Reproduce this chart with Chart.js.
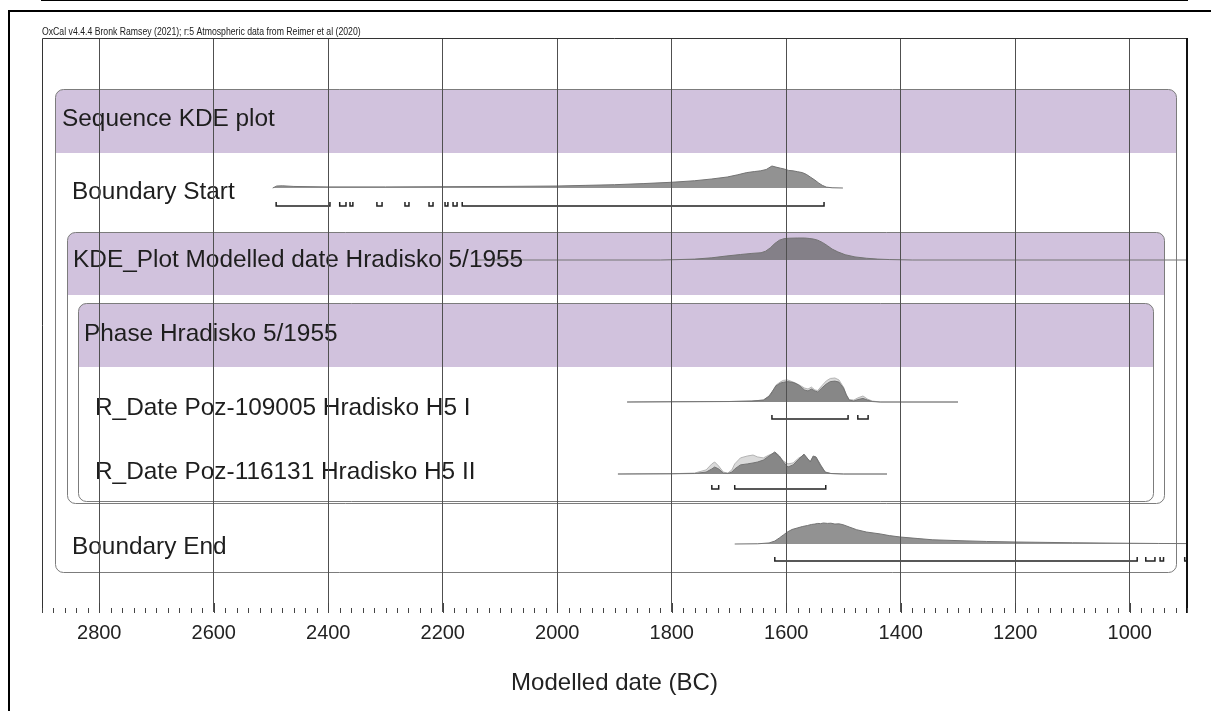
<!DOCTYPE html>
<html>
<head>
<meta charset="utf-8">
<script src="https://cdn.jsdelivr.net/npm/chart.js@4.4.0/dist/chart.umd.min.js"></script>
<style>
  html, body { margin: 0; padding: 0; background: #fff; }
  #wrap { width: 1211px; height: 711px; }
</style>
</head>
<body>
<div id="wrap"><canvas id="oxcal" width="1211" height="711"></canvas></div>
<script>
// axis
const tickYears = [2800, 2600, 2400, 2200, 2000, 1800, 1600, 1400, 1200, 1000];
const xMin = 900, xMax = 2900;
const axisTitle = 'Modelled date (BC)';
const headerText = 'OxCal v4.4.4 Bronk Ramsey (2021); r:5 Atmospheric data from Reimer et al (2020)';

// Boundary Start (posterior)
const startYears = [2497,2490,2480,2460,2400,2300,2200,2100,2000,1950,1900,1850,1800,1760,1730,1703,1685,1669,1655,1645,1635,1625,1618,1610,1603,1596,1588,1580,1572,1565,1558,1550,1543,1537,1530,1520,1501];
const startProb  = [0,0.09,0.1,0.07,0.05,0.05,0.06,0.07,0.09,0.12,0.15,0.2,0.26,0.33,0.41,0.5,0.6,0.7,0.75,0.78,0.84,1.0,0.95,0.9,0.86,0.8,0.78,0.74,0.7,0.62,0.5,0.36,0.22,0.12,0.04,0.01,0];
const startRanges = [[2491,2397],[2380,2369],[2362,2357],[2315,2306],[2266,2259],[2224,2217],[2196,2191],[2182,2175],[2166,1534]];

// KDE_Plot Modelled date
const kdeYears = [2140,1820,1800,1760,1730,1705,1680,1660,1644,1636,1628,1620,1612,1604,1595,1580,1568,1560,1552,1545,1537,1528,1520,1510,1497,1480,1460,1440,1420,1400,1380,900];
const kdeProb  = [0,0,0.01,0.04,0.1,0.18,0.25,0.3,0.33,0.4,0.55,0.75,0.9,0.97,0.99,1.0,1.0,0.98,0.95,0.9,0.8,0.65,0.5,0.37,0.24,0.14,0.08,0.04,0.02,0.01,0,0];

// R_Date Poz-109005
const r1Years = [1878,1800,1700,1660,1640,1630,1625,1618,1610,1605,1598,1590,1585,1578,1568,1562,1556,1550,1545,1538,1530,1523,1515,1508,1500,1495,1490,1482,1475,1466,1458,1450,1436,1300];
const r1Post  = [0,0.01,0.02,0.04,0.08,0.25,0.42,0.67,0.79,0.82,0.85,0.82,0.79,0.7,0.5,0.46,0.54,0.46,0.42,0.58,0.75,0.85,0.87,0.83,0.58,0.29,0.08,0.04,0.1,0.15,0.08,0.02,0,0];
const r1Like  = [0,0.01,0.02,0.04,0.08,0.22,0.38,0.7,0.84,0.9,0.92,0.85,0.8,0.72,0.58,0.54,0.62,0.5,0.48,0.67,0.88,0.98,1.0,0.92,0.62,0.3,0.1,0.08,0.17,0.25,0.12,0.04,0,0];
const r1Ranges = [[1625,1492],[1475,1457]];

// R_Date Poz-116131
const r2Years = [1894,1800,1760,1740,1730,1725,1718,1710,1702,1695,1690,1680,1668,1658,1650,1640,1630,1620,1612,1605,1597,1588,1578,1569,1562,1558,1553,1548,1540,1532,1522,1500,1424];
const r2Post  = [0,0.01,0.02,0.08,0.21,0.29,0.21,0.04,0.02,0.08,0.21,0.38,0.42,0.46,0.5,0.58,0.75,0.92,0.75,0.5,0.29,0.38,0.62,0.83,0.62,0.5,0.75,0.71,0.38,0.08,0.02,0,0];
const r2Like  = [0,0.01,0.04,0.17,0.42,0.5,0.33,0.08,0.04,0.17,0.42,0.67,0.75,0.79,0.71,0.67,0.79,0.88,0.71,0.54,0.42,0.46,0.67,0.79,0.62,0.54,0.71,0.67,0.33,0.08,0.02,0,0];
const r2Ranges = [[1730,1718],[1690,1531]];

// Boundary End (posterior)
const endYears = [1690,1650,1630,1620,1612,1605,1598,1590,1581,1572,1563,1556,1550,1545,1540,1535,1528,1522,1515,1508,1501,1490,1477,1460,1436,1420,1400,1370,1344,1300,1250,1199,1100,1000,950,900,860];
const endProb  = [0,0.01,0.05,0.14,0.29,0.43,0.57,0.69,0.76,0.83,0.88,0.93,0.95,0.98,0.97,1.0,0.98,0.99,0.95,0.96,0.92,0.81,0.68,0.57,0.48,0.4,0.33,0.26,0.2,0.16,0.12,0.095,0.06,0.035,0.025,0.02,0.015];
const endRanges = [[1620,987],[972,956],[947,941],[904,880]];

const rowLabels = ['Sequence KDE plot', 'Boundary Start', 'KDE_Plot Modelled date Hradisko 5/1955',
  'Phase Hradisko 5/1955', 'R_Date Poz-109005 Hradisko H5 I', 'R_Date Poz-116131 Hradisko H5 II', 'Boundary End'];

// layout (y units = px below top of plot area)
const rows = {
  start: { base: 150, bracket: 168, peak: 22 },
  kde:   { base: 222, peak: 22 },
  r1:    { base: 364, bracket: 381, peak: 24 },
  r2:    { base: 436, bracket: 451, peak: 24 },
  end:   { base: 506, bracket: 523, peak: 21 }
};
const labelPos = [[20,81],[30,154],[31,222],[42,296],[53,370],[53,434],[30,509]];
const boxes = [
  { inL: 13, inR: 11, top: 51,  head: 115, bottom: 534 },
  { inL: 25, inR: 23, top: 194, head: 257, bottom: 465 },
  { inL: 36, inR: 34, top: 265, head: 329, bottom: 463 }
];
const FONT = "'Liberation Sans', Arial, sans-serif";
const PURPLE = '#d1c2dd';

function curve(years, prob, row) {
  return years.map((yr, i) => ({ x: yr, y: row.base - prob[i] * row.peak }));
}
function brackets(ranges, row) {
  const pts = [];
  ranges.forEach(([a, b]) => {
    pts.push({x: a, y: row.bracket - 4}, {x: a, y: row.bracket}, {x: b, y: row.bracket}, {x: b, y: row.bracket - 4}, {x: b, y: null});
  });
  return pts;
}
function post(data, base) {
  return { data, order: 2, borderColor: '#747474', borderWidth: 1, backgroundColor: 'rgba(100,100,100,0.7)', fill: { value: base }, pointRadius: 0 };
}
function like(data, base) {
  return { data, order: 3, borderColor: '#b4b4b4', borderWidth: 1, backgroundColor: '#dadada', fill: { value: base }, pointRadius: 0 };
}
function bracketSet(data) {
  return { data, order: 1, borderColor: '#222', borderWidth: 1.5, fill: false, pointRadius: 0, spanGaps: false };
}

const oxcalDecor = {
  id: 'oxcalDecor',
  beforeDraw(chart) {
    const ctx = chart.ctx;
    ctx.save();
    ctx.fillStyle = '#fff';
    ctx.fillRect(0, 0, chart.width, chart.height);
    ctx.strokeStyle = '#000';
    ctx.lineWidth = 2;
    ctx.beginPath();
    ctx.moveTo(9, chart.height); ctx.lineTo(9, 11); ctx.lineTo(chart.width, 11);
    ctx.stroke();
    ctx.restore();
  },
  beforeDatasetsDraw(chart) {
    const {ctx, chartArea: a, scales: {y}} = chart;
    ctx.save();
    boxes.forEach(b => {
      const x0 = a.left + b.inL + 0.5, x1 = a.right - b.inR + 0.5;
      const t = Math.round(y.getPixelForValue(b.top)) + 0.5;
      const h = y.getPixelForValue(b.head), bt = Math.round(y.getPixelForValue(b.bottom)) + 0.5;
      ctx.fillStyle = PURPLE;
      ctx.beginPath(); ctx.roundRect(x0, t, x1 - x0, h - t, [8, 8, 0, 0]); ctx.fill();
      ctx.strokeStyle = '#7c7c7c'; ctx.lineWidth = 1;
      ctx.beginPath(); ctx.roundRect(x0, t, x1 - x0, bt - t, 8); ctx.stroke();
    });
    ctx.restore();
  },
  afterDatasetsDraw(chart) {
    const {ctx, chartArea: a, scales: {y}} = chart;
    ctx.save();
    ctx.fillStyle = '#1e1e1e';
    ctx.font = '24.4px ' + FONT;
    ctx.textBaseline = 'middle';
    rowLabels.forEach((t, i) => ctx.fillText(t, a.left + labelPos[i][0], y.getPixelForValue(labelPos[i][1])));
    ctx.restore();
  },
  afterDraw(chart) {
    const {ctx, chartArea: a, scales: {x}} = chart;
    ctx.save();
    ctx.strokeStyle = '#333';
    ctx.lineWidth = 1;
    ctx.beginPath();
    ctx.moveTo(a.left + 0.5, a.bottom); ctx.lineTo(a.left + 0.5, a.top + 0.5); ctx.lineTo(a.right, a.top + 0.5);
    ctx.stroke();
    ctx.strokeStyle = '#111'; ctx.lineWidth = 2;
    ctx.beginPath(); ctx.moveTo(a.right, a.top); ctx.lineTo(a.right, a.bottom); ctx.stroke();
    // minor ticks every 20 years
    ctx.strokeStyle = '#444'; ctx.lineWidth = 1;
    ctx.beginPath();
    for (let v = xMin; v <= xMax; v += 20) {
      const px = Math.round(x.getPixelForValue(v)) + 0.5;
      const len = v % 200 === 0 ? 10 : 5;
      ctx.moveTo(px, a.bottom); ctx.lineTo(px, a.bottom - len);
    }
    ctx.stroke();
    // header line, condensed
    ctx.fillStyle = '#222';
    ctx.font = '10.6px ' + FONT;
    ctx.textBaseline = 'alphabetic';
    ctx.translate(a.left, a.top - 3);
    ctx.scale(0.82, 1);
    ctx.fillText(headerText, 0, 0);
    ctx.restore();
  }
};

new Chart(document.getElementById('oxcal'), {
  type: 'line',
  data: {
    datasets: [
      post(curve(startYears, startProb, rows.start), rows.start.base),
      bracketSet(brackets(startRanges, rows.start)),
      post(curve(kdeYears, kdeProb, rows.kde), rows.kde.base),
      like(curve(r1Years, r1Like, rows.r1), rows.r1.base),
      post(curve(r1Years, r1Post, rows.r1), rows.r1.base),
      bracketSet(brackets(r1Ranges, rows.r1)),
      like(curve(r2Years, r2Like, rows.r2), rows.r2.base),
      post(curve(r2Years, r2Post, rows.r2), rows.r2.base),
      bracketSet(brackets(r2Ranges, rows.r2)),
      post(curve(endYears, endProb, rows.end), rows.end.base),
      bracketSet(brackets(endRanges, rows.end))
    ]
  },
  options: {
    responsive: false,
    animation: false,
    events: [],
    layout: { padding: { left: 42, top: 38, right: 24, bottom: 0 } },
    elements: { line: { tension: 0 } },
    plugins: { legend: { display: false }, tooltip: { enabled: false } },
    scales: {
      x: {
        type: 'linear', reverse: true, min: xMin, max: xMax,
        afterBuildTicks: s => { s.ticks = tickYears.map(v => ({ value: v })); },
        afterFit: s => { s.height = 98; },
        grid: { color: '#505050', lineWidth: 1, drawTicks: false, z: 1 },
        border: { color: '#000', width: 2 },
        ticks: { autoSkip: false, maxRotation: 0, padding: 8, color: '#222',
          font: { family: FONT, size: 20 }, callback: v => String(v) },
        title: { display: true, text: axisTitle, color: '#222',
          font: { family: FONT, size: 24 }, padding: { top: 0, bottom: 13 } }
      },
      y: { type: 'linear', display: false, reverse: true, min: 0, max: 575 }
    }
  },
  plugins: [oxcalDecor]
});
</script>
</body>
</html>
